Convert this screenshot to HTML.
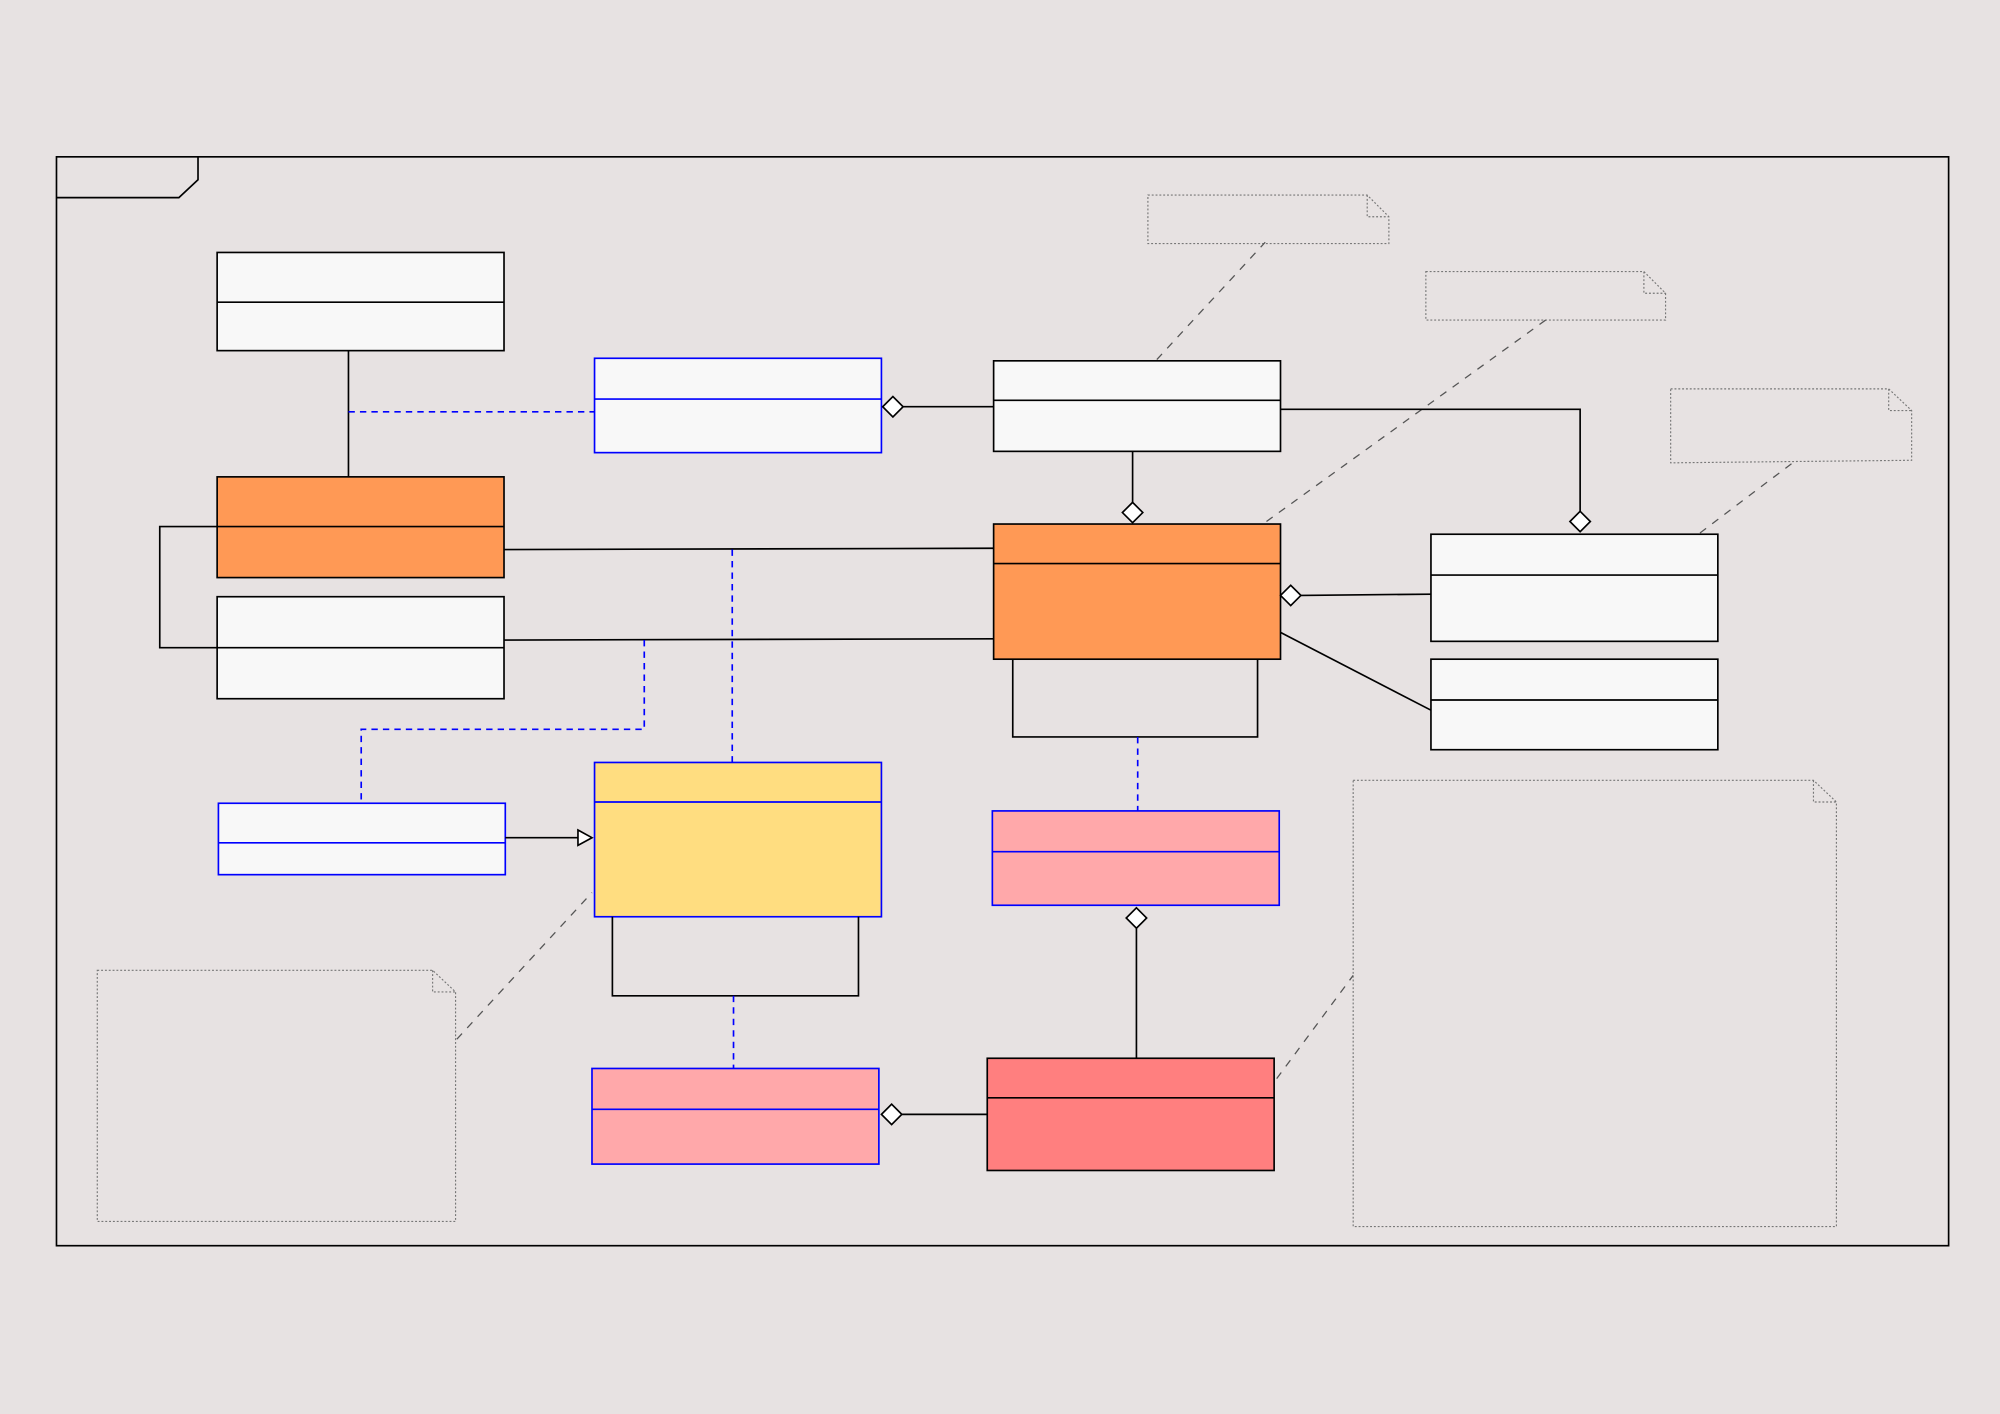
<!DOCTYPE html>
<html><head><meta charset="utf-8"><style>
html,body{margin:0;padding:0;background:#e7e2e2;}
svg{display:block;}
</style></head><body>
<svg width="2000" height="1414" viewBox="0 0 1568 1109" xmlns="http://www.w3.org/2000/svg">
<rect x="0" y="0" width="1568" height="1109" fill="#e7e2e2"/>
<g fill="none" stroke="#000" stroke-width="1.3">
<rect x="44" y="123" width="1484" height="854"/>
<path d="M44,155 L140,155 L155,141 L155,123"/>
</g>
<!-- notes -->
<g fill="none" stroke="#777" stroke-width="0.9" stroke-dasharray="1.5,1.5">
<path d="M900,153 H1072 L1089,170 V191 H900 Z M1072,153 V170 H1089"/>
<path d="M1118,213 H1289 L1306,230 V251 H1118 Z M1289,213 V230 H1306"/>
<path d="M1310,305 H1481 L1499,322 V361 L1310,363 Z M1481,305 V322 H1499"/>
<path d="M76,761 H339 L357,778 V958 H76 Z M339,761 V778 H357"/>
<path d="M1061,612 H1422 L1440,629 V962 H1061 Z M1422,612 V629 H1440"/>
</g>
<g fill="none" stroke="#555" stroke-width="1" stroke-dasharray="6,6">
<path d="M907,282 L992,190"/>
<path d="M993,409 L1212,251"/>
<path d="M1333,418 L1407,362"/>
<path d="M358,815 L464,700"/>
<path d="M1001,846 L1061,765"/>
</g>
<!-- boxes -->
<g stroke-width="1.3">
<rect x="170" y="198" width="225" height="77" fill="#f8f8f8" stroke="#000"/><line x1="170" y1="237" x2="395" y2="237" stroke="#000"/>
<rect x="466" y="281" width="225" height="74" fill="#f8f8f8" stroke="#00f"/><line x1="466" y1="313" x2="691" y2="313" stroke="#00f"/>
<rect x="779" y="283" width="225" height="71" fill="#f8f8f8" stroke="#000"/><line x1="779" y1="314" x2="1004" y2="314" stroke="#000"/>
<rect x="170" y="374" width="225" height="79" fill="#ff9955" stroke="#000"/><line x1="170" y1="413" x2="395" y2="413" stroke="#000"/>
<rect x="170" y="468" width="225" height="80" fill="#f8f8f8" stroke="#000"/><line x1="170" y1="508" x2="395" y2="508" stroke="#000"/>
<rect x="779" y="411" width="225" height="106" fill="#ff9955" stroke="#000"/><line x1="779" y1="442" x2="1004" y2="442" stroke="#000"/>
<rect x="1122" y="419" width="225" height="84" fill="#f8f8f8" stroke="#000"/><line x1="1122" y1="451" x2="1347" y2="451" stroke="#000"/>
<rect x="1122" y="517" width="225" height="71" fill="#f8f8f8" stroke="#000"/><line x1="1122" y1="549" x2="1347" y2="549" stroke="#000"/>
<rect x="171" y="630" width="225" height="56" fill="#f8f8f8" stroke="#00f"/><line x1="171" y1="661" x2="396" y2="661" stroke="#00f"/>
<rect x="466" y="598" width="225" height="121" fill="#ffdd80" stroke="#00f"/><line x1="466" y1="629" x2="691" y2="629" stroke="#00f"/>
<rect x="778" y="636" width="225" height="74" fill="#ffa8aa" stroke="#00f"/><line x1="778" y1="668" x2="1003" y2="668" stroke="#00f"/>
<rect x="464" y="838" width="225" height="75" fill="#ffa8aa" stroke="#00f"/><line x1="464" y1="870" x2="689" y2="870" stroke="#00f"/>
<rect x="774" y="830" width="225" height="88" fill="#ff7f7f" stroke="#000"/><line x1="774" y1="861" x2="999" y2="861" stroke="#000"/>
</g>
<!-- black connectors -->
<g fill="none" stroke="#000" stroke-width="1.3">
<path d="M794,517 V578 H986 V517"/>
<path d="M480,719 V781 H673 V719"/>
<path d="M273,275 V374"/>
<path d="M708,319 L779,319"/>
<path d="M888,354 V394"/>
<path d="M1004,321 H1239 V401"/>
<path d="M395,431 L779,430"/>
<path d="M395,502 L779,501"/>
<path d="M170,413 H125 V508 H170"/>
<path d="M1020,467 L1122,466"/>
<path d="M1004,496 L1122,557"/>
<path d="M396,657 H453"/>
<path d="M891,728 V830"/>
<path d="M707,874 H774"/>
</g>
<g fill="#fff" stroke="#000" stroke-width="1.3">
<path d="M692,319 L700,311 L708,319 L700,327 Z"/>
<path d="M888,394 L896,402 L888,410 L880,402 Z"/>
<path d="M1239,401 L1247,409 L1239,417 L1231,409 Z"/>
<path d="M1004,467 L1012,459 L1020,467 L1012,475 Z"/>
<path d="M891,712 L899,720 L891,728 L883,720 Z"/>
<path d="M691,874 L699,866 L707,874 L699,882 Z"/>
<path d="M453,651 L464,657 L453,663 Z"/>
</g>
<!-- blue dashed -->
<g fill="none" stroke="#00f" stroke-width="1.3" stroke-dasharray="5,4">
<path d="M273,323 H466"/>
<path d="M574,431 V598"/>
<path d="M505,502 V572 H283 V630"/>
<path d="M892,578 V636"/>
<path d="M575,781 V838"/>
</g>
</svg>
</body></html>
